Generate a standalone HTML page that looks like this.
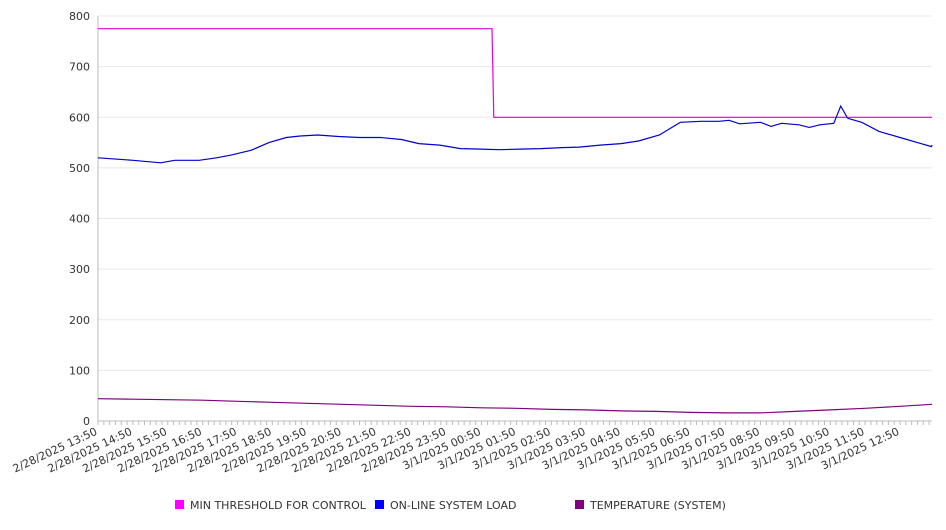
<!DOCTYPE html>
<html><head><meta charset="utf-8"><style>
body{margin:0;background:#fff;font-family:"DejaVu Sans","Liberation Sans",sans-serif;}
svg text{font-family:"DejaVu Sans","Liberation Sans",sans-serif;fill:#333;}
</style></head><body>
<svg id="chart" width="946" height="526" xmlns="http://www.w3.org/2000/svg">
<g id="grid"></g>
<g id="axes"></g>
<g id="series"></g>
<g id="legend"></g>
</svg>
<script>
const yTicks=[0,100,200,300,400,500,600,700,800];
const xLabels=["2/28/2025 13:50","2/28/2025 14:50","2/28/2025 15:50","2/28/2025 16:50","2/28/2025 17:50","2/28/2025 18:50","2/28/2025 19:50","2/28/2025 20:50","2/28/2025 21:50","2/28/2025 22:50","2/28/2025 23:50","3/1/2025 00:50","3/1/2025 01:50","3/1/2025 02:50","3/1/2025 03:50","3/1/2025 04:50","3/1/2025 05:50","3/1/2025 06:50","3/1/2025 07:50","3/1/2025 08:50","3/1/2025 09:50","3/1/2025 10:50","3/1/2025 11:50","3/1/2025 12:50"];
const loadT=[0,1,1.8,2.2,2.9,3.4,3.8,4.4,4.9,5.4,5.8,6.3,6.9,7.5,8.1,8.7,9.2,9.8,10.4,11,11.5,12.1,12.7,13.3,13.8,14.4,15,15.5,16.1,16.7,17.3,17.8,18.1,18.4,19,19.3,19.6,20.1,20.4,20.7,21.1,21.3,21.5,21.9,22.4,23,23.6,23.9,23.92];
const loadV=[520,515,510,515,515,520,525,535,550,560,563,565,562,560,560,556,548,545,538,537,536,537,538,540,541,545,548,553,565,590,592,592,594,587,590,582,588,585,580,585,588,622,598,590,572,560,548,542,545];
const threshT=[0,11.3,11.35,23.92];
const threshV=[775,775,600,600];
const tempT=[0,1,2,3,4,5,6,7,8,9,10,11,12,13,14,15,16,17,18,19,20,21,22,23,23.92];
const tempV=[44,43,42,41,39,37,35,33,31,29,28,26,25,23,22,20,19,17,16,16,19,22,25,29,33];
const X0=98,PXH=34.87,Y0=421,PXU=0.50625,XR=932;
const xs=t=>X0+t*PXH, ys=v=>Y0-v*PXU;
const NS="http://www.w3.org/2000/svg";
function mk(tag,attrs,parent){const e=document.createElementNS(NS,tag);for(const k in attrs)e.setAttribute(k,attrs[k]);parent.appendChild(e);return e;}
const grid=document.getElementById('grid'),axes=document.getElementById('axes'),series=document.getElementById('series'),legend=document.getElementById('legend');
yTicks.forEach(v=>{
 const l=mk('line',{x1:X0,x2:XR,y1:ys(v),y2:ys(v),stroke:v===0?'#bbb':'#e8e8e8','stroke-width':1},grid);
 
 
 const t=mk('text',{x:90,y:ys(v)+4,'text-anchor':'end','font-size':11},axes);
 t.textContent=v;
 
 
});
const ax=mk('line',{x1:X0,x2:X0,y1:16,y2:Y0,stroke:'#bbb'},axes);


for(let x=X0;x<=XR;x+=PXH/6){
 const tk=mk('line',{x1:x,x2:x,y1:Y0,y2:Y0+4,stroke:'#bbb'},axes);
 
 
}
xLabels.forEach((s,i)=>{
 const x=xs(i);
 const t=mk('text',{x:x,y:Y0+13,'text-anchor':'end','font-size':11,transform:`rotate(-25 ${x} ${Y0+13})`},axes);
 t.textContent=s;
 
 
});
function line(T,V,color,name){
 const d=T.map((t,i)=>(i?'L':'M')+xs(t).toFixed(1)+','+ys(V[i]).toFixed(1)).join(' ');
 const p=mk('path',{d:d,fill:'none',stroke:color,'stroke-width':1.2},series);
 
 
}
line(threshT,threshV,'#e000e0','min-threshold-line');
line(loadT,loadV,'#0000d0','system-load-line');
line(tempT,tempV,'#800080','temperature-line');
[[175,'#ff00ff','MIN THRESHOLD FOR CONTROL','legend-min-threshold'],[375,'#0000ff','ON-LINE SYSTEM LOAD','legend-system-load'],[575,'#800080','TEMPERATURE (SYSTEM)','legend-temperature']].forEach(([x,c,s,n])=>{
 const g=mk('g',{},legend);
 
 
 mk('rect',{x:x,y:500,width:9,height:9,fill:c},g);
 const t=mk('text',{x:x+15,y:509,'font-size':11},g);
 t.textContent=s;
});
</script>
</body></html>
